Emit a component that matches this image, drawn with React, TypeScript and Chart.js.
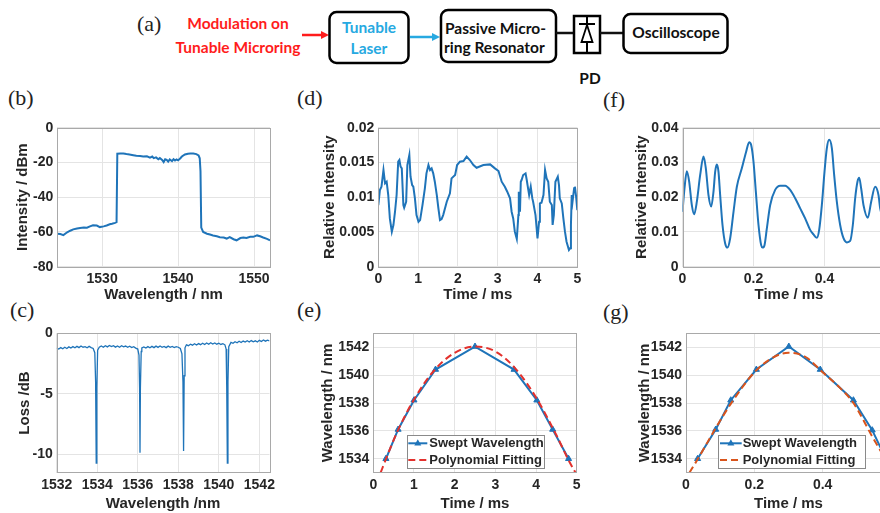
import React, { useEffect, useRef } from 'react';
import { Chart, registerables } from 'chart.js';

Chart.register(...registerables);

// ---------------- (b) laser spectrum ----------------
const bWavelength = [1524.1, 1524.5, 1524.9, 1525.4, 1525.8, 1526.2, 1526.7, 1527.1, 1527.6, 1528.0, 1528.4, 1528.8, 1529.3, 1529.7, 1530.2, 1530.6, 1531.0, 1531.3, 1531.7, 1531.9, 1532.0, 1532.4, 1532.8, 1533.2, 1533.6, 1534.1, 1534.5, 1535.0, 1535.4, 1535.9, 1536.3, 1536.6, 1536.8, 1537.1, 1537.4, 1537.6, 1537.9, 1538.1, 1538.3, 1538.5, 1538.7, 1538.9, 1539.2, 1539.4, 1539.6, 1539.8, 1540.0, 1540.3, 1540.5, 1540.9, 1541.3, 1541.6, 1542.0, 1542.4, 1542.7, 1542.85, 1542.95, 1543.05, 1543.3, 1543.8, 1544.2, 1544.6, 1545.1, 1545.5, 1546.0, 1546.4, 1546.8, 1547.3, 1547.7, 1548.2, 1548.6, 1549.0, 1549.5, 1549.9, 1550.4, 1550.8, 1551.2, 1551.7, 1552.1];
const bIntensity = [-61, -61.2, -61.8, -60.2, -59.3, -58.5, -58, -57.7, -57.5, -57.6, -56.8, -56.2, -56.3, -57.2, -56.8, -56.3, -55.6, -55.3, -54.8, -54.4, -15, -14.8, -14.9, -15.2, -15.4, -15.8, -16.2, -16.3, -16.6, -16.5, -17.2, -16.6, -17.5, -17.1, -18.2, -17.5, -18.6, -19.8, -18.2, -18.5, -19.5, -18.3, -19.2, -18.1, -18.9, -18.3, -18.8, -17.6, -16.6, -15.4, -15, -14.8, -14.9, -15.2, -16, -17.6, -25, -57.5, -60, -61, -61.5, -62, -62.5, -63, -63.2, -63.8, -63, -64.2, -64.8, -63.5, -63.2, -63.5, -62.8, -62.8, -62, -62.5, -63.2, -64, -64.8];
const bTicksX = [1530, 1540, 1550];
const bTicksY = [-80, -60, -40, -20, 0];

// ---------------- (c) micro-ring transmission ----------------
const cWavelength = [
  1532.0, 1532.1, 1532.2, 1532.3, 1532.4, 1532.5, 1532.6, 1532.7, 1532.8, 1532.9,
  1533.0, 1533.1, 1533.2, 1533.3, 1533.4, 1533.5, 1533.6, 1533.7, 1533.8,
  1533.88, 1533.92, 1533.95, 1533.98, 1534.02,
  1534.1, 1534.2, 1534.3, 1534.4, 1534.5, 1534.6, 1534.7, 1534.8, 1534.9, 1535.0,
  1535.1, 1535.2, 1535.3, 1535.4, 1535.5, 1535.6, 1535.7, 1535.8, 1535.9, 1536.0,
  1536.06, 1536.09, 1536.11, 1536.13, 1536.17,
  1536.2, 1536.3, 1536.4, 1536.5, 1536.6, 1536.7, 1536.8, 1536.9, 1537.0, 1537.1,
  1537.2, 1537.3, 1537.4, 1537.5, 1537.6, 1537.7, 1537.8, 1537.9, 1538.0, 1538.1,
  1538.18, 1538.23, 1538.26, 1538.29, 1538.33,
  1538.4, 1538.5, 1538.6, 1538.7, 1538.8, 1538.9, 1539.0, 1539.1, 1539.2, 1539.3,
  1539.4, 1539.5, 1539.6, 1539.7, 1539.8, 1539.9, 1540.0, 1540.1, 1540.2, 1540.3,
  1540.36, 1540.39, 1540.42, 1540.45, 1540.49,
  1540.6, 1540.7, 1540.8, 1540.9, 1541.0, 1541.1, 1541.2, 1541.3, 1541.4, 1541.5,
  1541.6, 1541.7, 1541.8, 1541.9, 1542.0, 1542.1, 1542.2, 1542.3, 1542.4, 1542.5,
];
const cLoss = [
  -1.22, -1.30, -1.18, -1.28, -1.15, -1.25, -1.12, -1.22, -1.10, -1.20,
  -1.08, -1.18, -1.05, -1.15, -1.10, -1.20, -1.08, -1.18, -1.25,
  -1.6, -4.0, -10.7, -4.5, -1.4,
  -1.15, -1.05, -1.15, -1.02, -1.12, -1.00, -1.10, -1.02, -1.14, -1.05,
  -1.15, -1.02, -1.12, -1.05, -1.15, -1.06, -1.18, -1.10, -1.22, -1.30,
  -1.8, -4.5, -9.85, -4.5, -1.5,
  -1.20, -1.12, -1.22, -1.10, -1.20, -1.08, -1.18, -1.06, -1.16, -1.05,
  -1.15, -1.08, -1.18, -1.06, -1.16, -1.08, -1.18, -1.10, -1.15, -1.25,
  -1.7, -4.0, -9.7, -3.5, -1.2,
  -0.95, -1.02, -0.90, -0.98, -0.86, -0.96, -0.85, -0.94, -0.82, -0.92,
  -0.80, -0.90, -0.78, -0.88, -0.80, -0.90, -0.82, -0.92, -0.85, -0.95,
  -1.3, -4.5, -10.7, -4.0, -1.1,
  -0.75, -0.82, -0.70, -0.78, -0.66, -0.76, -0.64, -0.72, -0.62, -0.72,
  -0.60, -0.70, -0.62, -0.72, -0.58, -0.68, -0.55, -0.65, -0.56, -0.62,
];
const cTicksX = [1532, 1534, 1536, 1538, 1540, 1542];
const cTicksY = [-10, -5, 0];

// ---------------- (d) relative intensity, 0-5 ms ----------------
const dTime = [0, 0.04, 0.08, 0.13, 0.17, 0.21, 0.25, 0.29, 0.34, 0.38, 0.42, 0.46, 0.5, 0.53, 0.56, 0.59, 0.63, 0.65, 0.7, 0.73, 0.78, 0.81, 0.85, 0.88, 0.92, 0.96, 1.01, 1.05, 1.11, 1.17, 1.21, 1.26, 1.3, 1.34, 1.38, 1.42, 1.47, 1.51, 1.55, 1.59, 1.63, 1.72, 1.8, 1.84, 1.93, 1.98, 2.05, 2.14, 2.22, 2.3, 2.39, 2.47, 2.64, 2.81, 2.93, 3.02, 3.1, 3.18, 3.24, 3.31, 3.35, 3.39, 3.43, 3.48, 3.52, 3.53, 3.56, 3.58, 3.6, 3.64, 3.7, 3.73, 3.75, 3.79, 3.83, 3.87, 3.89, 3.95, 4.0, 4.04, 4.06, 4.1, 4.15, 4.19, 4.23, 4.27, 4.31, 4.36, 4.38, 4.41, 4.45, 4.51, 4.54, 4.56, 4.61, 4.65, 4.69, 4.73, 4.79, 4.82, 4.84, 4.86, 4.88, 4.92, 4.94, 4.97, 5.0];
const dIntensity = [0.00887, 0.01103, 0.01151, 0.01391, 0.01199, 0.01223, 0.01031, 0.00695, 0.00504, 0.006, 0.00791, 0.01031, 0.01511, 0.01535, 0.01439, 0.01415, 0.00887, 0.00849, 0.00935, 0.01463, 0.01607, 0.01295, 0.01175, 0.01151, 0.00983, 0.00743, 0.00647, 0.00671, 0.00887, 0.01127, 0.01343, 0.01463, 0.01391, 0.01415, 0.01343, 0.01223, 0.01031, 0.00839, 0.00671, 0.00686, 0.00743, 0.00935, 0.01055, 0.01271, 0.01319, 0.01463, 0.01511, 0.0152, 0.01583, 0.01535, 0.01463, 0.01424, 0.01463, 0.01472, 0.01415, 0.01376, 0.01223, 0.01151, 0.01079, 0.00983, 0.00791, 0.00695, 0.00504, 0.00398, 0.00743, 0.01079, 0.00791, 0.01223, 0.01247, 0.01319, 0.01343, 0.01247, 0.01175, 0.01031, 0.01151, 0.00983, 0.00935, 0.00743, 0.00408, 0.00647, 0.00911, 0.00921, 0.01031, 0.01391, 0.01271, 0.01223, 0.00935, 0.00887, 0.006, 0.00743, 0.01223, 0.01295, 0.01175, 0.00983, 0.00911, 0.00695, 0.00504, 0.0036, 0.0024, 0.00264, 0.006, 0.01031, 0.00935, 0.01127, 0.01151, 0.01007, 0.00815];
const dTicksX = [0, 1, 2, 3, 4, 5];
const dTicksY = [0, 0.005, 0.01, 0.015, 0.02];

// ---------------- (e) swept wavelength, 0-5 ms ----------------
const eSweptTime = [0.31, 0.61, 1.0, 1.53, 2.5, 3.46, 4.02, 4.41, 4.8];
const eSweptWavelength = [1534, 1536.1, 1538.2, 1540.4, 1542.05, 1540.4, 1538.2, 1536.1, 1534];
const eFitTime = [0.18, 0.3, 0.6, 1.0, 1.5, 2.0, 2.5, 3.0, 3.5, 4.0, 4.5, 4.8, 4.97];
const eFitWavelength = [1533, 1533.9, 1536.0, 1538.25, 1540.35, 1541.6, 1542.05, 1541.7, 1540.45, 1538.4, 1535.7, 1533.9, 1533.0];
const eTicksX = [0, 1, 2, 3, 4, 5];
const eTicksY = [1534, 1536, 1538, 1540, 1542];

// ---------------- (f) relative intensity, 0-0.6 ms ----------------
const fTime = [0, 0.0056, 0.0122, 0.0188, 0.0263, 0.0329, 0.0404, 0.0498, 0.0592, 0.0657, 0.0732, 0.0808, 0.0873, 0.092, 0.0967, 0.1014, 0.1061, 0.1127, 0.1202, 0.1268, 0.1343, 0.1437, 0.1531, 0.1671, 0.1793, 0.1878, 0.1934, 0.2, 0.2066, 0.2141, 0.2216, 0.2254, 0.231, 0.2376, 0.2469, 0.261, 0.2751, 0.2892, 0.3033, 0.3174, 0.3315, 0.3455, 0.3596, 0.369, 0.3784, 0.385, 0.3925, 0.4, 0.4066, 0.4131, 0.4207, 0.4272, 0.4347, 0.4441, 0.4535, 0.4629, 0.4723, 0.4798, 0.4864, 0.493, 0.4977, 0.5033, 0.5099, 0.5221, 0.5315, 0.5427, 0.5521, 0.5568, 0.57, 0.585];
const fIntensity = [0.0158, 0.0225, 0.0275, 0.0245, 0.0177, 0.0151, 0.0187, 0.0264, 0.0317, 0.0283, 0.0206, 0.0173, 0.0216, 0.0273, 0.0294, 0.0273, 0.0206, 0.012, 0.0067, 0.0055, 0.0082, 0.0158, 0.023, 0.0283, 0.0331, 0.0358, 0.035, 0.0302, 0.0216, 0.012, 0.0062, 0.0055, 0.0062, 0.011, 0.0177, 0.0221, 0.0233, 0.0233, 0.0221, 0.0197, 0.0168, 0.0139, 0.0106, 0.0093, 0.0083, 0.0106, 0.0177, 0.0273, 0.0341, 0.0365, 0.0341, 0.0264, 0.0187, 0.012, 0.0082, 0.007, 0.0074, 0.012, 0.0197, 0.0245, 0.0256, 0.0225, 0.0177, 0.0141, 0.0187, 0.023, 0.0206, 0.0168, 0.012, 0.0095];
const fTicksX = [0, 0.2, 0.4, 0.6];
const fTicksY = [0, 0.01, 0.02, 0.03, 0.04];

// ---------------- (g) swept wavelength, 0-0.6 ms ----------------
const gSweptTime = [0.034, 0.087, 0.131, 0.206, 0.301, 0.393, 0.49, 0.545, 0.585];
const gSweptWavelength = [1534, 1536.1, 1538.2, 1540.4, 1542.05, 1540.4, 1538.2, 1536.05, 1534];
const gFitTime = [0.01, 0.035, 0.087, 0.13, 0.2, 0.25, 0.3, 0.35, 0.4, 0.45, 0.49, 0.545, 0.6];
const gFitWavelength = [1533, 1534.0, 1536.2, 1537.9, 1540.2, 1541.2, 1541.6, 1541.3, 1540.2, 1539.1, 1538.0, 1535.6, 1533.3];
const gTicksX = [0, 0.2, 0.4, 0.6];
const gTicksY = [1534, 1536, 1538, 1540, 1542];

// ---------------- styling ----------------
const SANS = '"Liberation Sans", Arial, Helvetica, sans-serif';
const SERIF = '"Liberation Serif", "Times New Roman", serif';
const TEXT = '#262626';
const BLUE = '#1f74b9';
const RED = '#e3312d';
const ORANGE = '#d9541c';
const GRID = '#e4e4e4';
const FRAME = '#a9a9a9';
const TICK_SIZE = 14;
const TITLE_SIZE = 15;

Chart.defaults.font.family = SANS;

const toXY = (xs: number[], ys: number[]) => xs.map((x, i) => ({ x, y: ys[i] }));

const framePlugin = {
  id: 'frame',
  afterDatasetsDraw(chart: any) {
    const { ctx, chartArea: a } = chart;
    ctx.save();
    ctx.strokeStyle = FRAME;
    ctx.lineWidth = 1;
    ctx.strokeRect(Math.round(a.left) + 0.5, Math.round(a.top) + 0.5, Math.round(a.right - a.left), Math.round(a.bottom - a.top));
    ctx.restore();
  },
};

const boxLegendPlugin = {
  id: 'boxLegend',
  afterDraw(chart: any, _args: any, opts: any) {
    if (!opts || !opts.enabled) return;
    const { ctx, chartArea: a } = chart;
    const x0 = a.left + opts.left;
    const x1 = a.left + opts.right;
    const y0 = a.bottom - opts.top;
    const y1 = a.bottom - opts.bottom;
    ctx.save();
    ctx.fillStyle = '#ffffff';
    ctx.fillRect(x0, y0, x1 - x0, y1 - y0);
    ctx.strokeStyle = '#8a8a8a';
    ctx.lineWidth = 1;
    ctx.strokeRect(Math.round(x0) + 0.5, Math.round(y0) + 0.5, Math.round(x1 - x0), Math.round(y1 - y0));
    chart.data.datasets.forEach((ds: any, i: number) => {
      const cy = y0 + opts.rows[i];
      ctx.strokeStyle = ds.borderColor;
      ctx.lineWidth = ds.borderWidth;
      ctx.setLineDash(ds.borderDash || []);
      ctx.beginPath();
      ctx.moveTo(x0 + opts.sampleStart, cy);
      ctx.lineTo(x0 + opts.sampleEnd, cy);
      ctx.stroke();
      ctx.setLineDash([]);
      if (ds.pointRadius > 0) {
        const mx = x0 + (opts.sampleStart + opts.sampleEnd) / 2;
        const r = ds.pointRadius;
        ctx.fillStyle = ds.pointBackgroundColor;
        ctx.beginPath();
        ctx.moveTo(mx, cy - r * 1.15);
        ctx.lineTo(mx + r, cy + r * 0.65);
        ctx.lineTo(mx - r, cy + r * 0.65);
        ctx.closePath();
        ctx.fill();
      }
      ctx.fillStyle = TEXT;
      ctx.font = `bold 13px ${SANS}`;
      ctx.textBaseline = 'middle';
      ctx.textAlign = 'left';
      ctx.fillText(ds.label, x0 + opts.textX, cy + 0.5);
    });
    ctx.restore();
  },
};

type Area = { l: number; t: number; r: number; b: number };
type Box = { x: number; y: number; w: number; h: number };

interface PanelDef {
  area: Area;
  box: Box;
  xMin: number; xMax: number; yMin: number; yMax: number;
  xTicks: number[]; yTicks: number[];
  xTitle: string; yTitle: string;
  yTitleCenterX: number; xTitleCenterY: number;
  datasets: () => any[];
  legend?: any;
}

function buildConfig(p: PanelDef): any {
  const yAxisWidth = p.area.l - p.box.x;
  const xAxisHeight = p.box.y + p.box.h - p.area.b;
  const padTop = p.area.t - p.box.y;
  const padRight = p.box.x + p.box.w - p.area.r;
  const lh = TITLE_SIZE * 1.2;
  const yTitlePad = Math.max(0, p.yTitleCenterX - p.box.x - lh / 2);
  const xTitlePad = Math.max(0, p.box.y + p.box.h - p.xTitleCenterY - lh / 2);
  const tickFont = { family: SANS, size: TICK_SIZE, weight: 'bold' as const };
  const titleFont = { family: SANS, size: TITLE_SIZE, weight: 'bold' as const };
  return {
    type: 'line',
    data: { datasets: p.datasets() },
    options: {
      animation: false,
      responsive: false,
      devicePixelRatio: 1,
      layout: { padding: { top: padTop, right: padRight, left: 0, bottom: 0 } },
      plugins: {
        legend: { display: false },
        tooltip: { enabled: false },
        boxLegend: p.legend || { enabled: false },
      },
      scales: {
        x: {
          type: 'linear',
          min: p.xMin,
          max: p.xMax,
          afterBuildTicks: (s: any) => { s.ticks = p.xTicks.map((v) => ({ value: v })); },
          afterFit: (s: any) => { s.height = xAxisHeight; },
          ticks: { autoSkip: false, maxRotation: 0, minRotation: 0, padding: 4, font: tickFont, color: TEXT, callback: (v: any) => String(v) },
          grid: { color: GRID, drawTicks: false, lineWidth: 1 },
          border: { display: false },
          title: { display: true, text: p.xTitle, font: titleFont, color: TEXT, padding: { top: 0, bottom: xTitlePad } },
        },
        y: {
          type: 'linear',
          min: p.yMin,
          max: p.yMax,
          afterBuildTicks: (s: any) => { s.ticks = p.yTicks.map((v) => ({ value: v })); },
          afterFit: (s: any) => { s.width = yAxisWidth; },
          ticks: { autoSkip: false, padding: 4, font: tickFont, color: TEXT, callback: (v: any) => String(v) },
          grid: { color: GRID, drawTicks: false, lineWidth: 1 },
          border: { display: false },
          title: { display: true, text: p.yTitle, font: titleFont, color: TEXT, padding: { top: yTitlePad, bottom: 0 } },
        },
      },
    },
    plugins: [framePlugin, boxLegendPlugin],
  };
}

const lineDs = (data: any[], extra: any = {}) => ({
  data,
  borderColor: BLUE,
  backgroundColor: BLUE,
  borderWidth: 2,
  pointRadius: 0,
  tension: 0,
  clip: 0,
  ...extra,
});

const panels: PanelDef[] = [
  {
    // (b)
    area: { l: 57.3, t: 127.7, r: 270, b: 266.7 },
    box: { x: 0, y: 108, w: 290, h: 200 },
    xMin: 1524.1, xMax: 1552.1, yMin: -80, yMax: 0,
    xTicks: bTicksX, yTicks: bTicksY,
    xTitle: 'Wavelength / nm', yTitle: 'Intensity / dBm',
    yTitleCenterX: 23, xTitleCenterY: 295,
    datasets: () => [lineDs(toXY(bWavelength, bIntensity))],
  },
  {
    // (d)
    area: { l: 378.3, t: 127.7, r: 577.3, b: 266.7 },
    box: { x: 298, y: 108, w: 300, h: 200 },
    xMin: 0, xMax: 5, yMin: 0, yMax: 0.02,
    xTicks: dTicksX, yTicks: dTicksY,
    xTitle: 'Time / ms', yTitle: 'Relative Intensity',
    yTitleCenterX: 330, xTitleCenterY: 295,
    datasets: () => [lineDs(toXY(dTime, dIntensity))],
  },
  {
    // (f)
    area: { l: 682.5, t: 127.7, r: 895.5, b: 266.7 },
    box: { x: 600, y: 108, w: 325, h: 200 },
    xMin: 0, xMax: 0.6, yMin: 0, yMax: 0.04,
    xTicks: fTicksX, yTicks: fTicksY,
    xTitle: 'Time / ms', yTitle: 'Relative Intensity',
    yTitleCenterX: 641.7, xTitleCenterY: 295,
    datasets: () => [lineDs(toXY(fTime, fIntensity), { cubicInterpolationMode: 'monotone' })],
  },
  {
    // (c)
    area: { l: 56.7, t: 333.3, r: 269.5, b: 472.7 },
    box: { x: 0, y: 313, w: 290, h: 200 },
    xMin: 1532, xMax: 1542.5, yMin: -11.5, yMax: 0,
    xTicks: cTicksX, yTicks: cTicksY,
    xTitle: 'Wavelength /nm', yTitle: 'Loss /dB',
    yTitleCenterX: 25, xTitleCenterY: 504,
    datasets: () => [lineDs(toXY(cWavelength, cLoss), { borderWidth: 1.3 })],
  },
  {
    // (e)
    area: { l: 373.3, t: 333.3, r: 576.7, b: 472.7 },
    box: { x: 298, y: 313, w: 300, h: 200 },
    xMin: 0, xMax: 5, yMin: 1533, yMax: 1543,
    xTicks: eTicksX, yTicks: eTicksY,
    xTitle: 'Time / ms', yTitle: 'Wavelength / nm',
    yTitleCenterX: 328, xTitleCenterY: 505,
    datasets: () => [
      lineDs(toXY(eSweptTime, eSweptWavelength), { label: 'Swept Wavelength', pointRadius: 3.5, pointStyle: 'triangle', pointBackgroundColor: BLUE, pointBorderColor: BLUE, pointBorderWidth: 1, order: 1 }),
      lineDs(toXY(eFitTime, eFitWavelength), { label: 'Polynomial Fitting', borderColor: RED, backgroundColor: RED, borderDash: [7, 4], cubicInterpolationMode: 'monotone', order: 0 }),
    ],
    legend: { enabled: true, left: 33.4, right: 170, top: 37.7, bottom: 4.4, rows: [8.3, 25], sampleStart: 1.6, sampleEnd: 20.6, textX: 22.6 },
  },
  {
    // (g)
    area: { l: 686, t: 333.3, r: 891, b: 472.7 },
    box: { x: 600, y: 313, w: 325, h: 200 },
    xMin: 0, xMax: 0.6, yMin: 1533, yMax: 1543,
    xTicks: gTicksX, yTicks: gTicksY,
    xTitle: 'Time / ms', yTitle: 'Wavelength / nm',
    yTitleCenterX: 645, xTitleCenterY: 505,
    datasets: () => [
      lineDs(toXY(gSweptTime, gSweptWavelength), { label: 'Swept Wavelength', pointRadius: 3.5, pointStyle: 'triangle', pointBackgroundColor: BLUE, pointBorderColor: BLUE, pointBorderWidth: 1, order: 1 }),
      lineDs(toXY(gFitTime, gFitWavelength), { label: 'Polynomial Fitting', borderColor: ORANGE, backgroundColor: ORANGE, borderDash: [7, 4], cubicInterpolationMode: 'monotone', order: 0 }),
    ],
    legend: { enabled: true, left: 32.3, right: 179, top: 37.7, bottom: 4.4, rows: [8.3, 25], sampleStart: 1.7, sampleEnd: 23.4, textX: 24.4 },
  },
];

function ChartPanel({ def }: { def: PanelDef }) {
  const ref = useRef<HTMLCanvasElement>(null);
  useEffect(() => {
    if (!ref.current) return;
    const chart = new Chart(ref.current, buildConfig(def));
    return () => chart.destroy();
  }, [def]);
  const { x, y, w, h } = def.box;
  return (
    <canvas
      ref={ref}
      width={w}
      height={h}
      style={{ position: 'absolute', left: x, top: y, width: w, height: h }}
    />
  );
}

const panelLabels = [
  { text: '(b)', x: 8, y: 98 },
  { text: '(d)', x: 297, y: 98 },
  { text: '(f)', x: 603, y: 100 },
  { text: '(c)', x: 10, y: 310 },
  { text: '(e)', x: 297, y: 310 },
  { text: '(g)', x: 603, y: 312 },
];

function Diagram() {
  const boxFont = { fontFamily: 'Lato, "Open Sans", sans-serif', fontWeight: 700, fontSize: 15.5 } as const;
  return (
    <svg width={880} height={95} style={{ position: 'absolute', left: 0, top: 0 }}>
      <text x={137} y={23} dominantBaseline="central" style={{ fontFamily: SERIF, fontSize: 22 }} fill="#222">(a)</text>
      <text x={238} y={23} textAnchor="middle" dominantBaseline="central" style={boxFont} fill="#ff1c1c">Modulation on</text>
      <text x={238} y={47} textAnchor="middle" dominantBaseline="central" style={boxFont} fill="#ff1c1c">Tunable Microring</text>
      <line x1={302} y1={35} x2={322} y2={35} stroke="#ff1c1c" strokeWidth={2.5} />
      <polygon points="321,31 329,35 321,39" fill="#ff1c1c" />

      <rect x={329.5} y={12} width={79} height={51} rx={7} fill="#fff" stroke="#000" strokeWidth={2.5} />
      <text x={369} y={27} textAnchor="middle" dominantBaseline="central" style={boxFont} fill="#27a9e1">Tunable</text>
      <text x={369} y={48} textAnchor="middle" dominantBaseline="central" style={boxFont} fill="#27a9e1">Laser</text>

      <line x1={410} y1={37} x2={433} y2={37} stroke="#27a9e1" strokeWidth={2.5} />
      <polygon points="432,33 440,37 432,41" fill="#27a9e1" />

      <rect x={441} y={10} width={115} height={52} rx={7} fill="#fff" stroke="#000" strokeWidth={2.5} />
      <text x={445} y={28} dominantBaseline="central" style={boxFont} fill="#111">Passive Micro-</text>
      <text x={444} y={47} dominantBaseline="central" style={boxFont} fill="#111">ring Resonator</text>

      <line x1={556} y1={33} x2={574} y2={33} stroke="#111" strokeWidth={2.5} />
      <rect x={574} y={16} width={26} height={37} fill="#fff" stroke="#000" strokeWidth={2.5} />
      <line x1={587} y1={16} x2={587} y2={24} stroke="#000" strokeWidth={2} />
      <line x1={579} y1={24} x2={595} y2={24} stroke="#000" strokeWidth={2} />
      <polygon points="587,25 581.5,42 592.5,42" fill="#fff" stroke="#000" strokeWidth={1.8} />
      <line x1={587} y1={42} x2={587} y2={53} stroke="#000" strokeWidth={2} />
      <line x1={600} y1={33} x2={623} y2={33} stroke="#111" strokeWidth={2.5} />

      <rect x={623.5} y={14} width={104} height={39} rx={7} fill="#fff" stroke="#000" strokeWidth={2.5} />
      <text x={676} y={32} textAnchor="middle" dominantBaseline="central" style={boxFont} fill="#111">Oscilloscope</text>

      <text x={590} y={78} textAnchor="middle" dominantBaseline="central" style={boxFont} fill="#111">PD</text>
    </svg>
  );
}

export default function App() {
  return (
    <div
      style={{
        position: 'absolute',
        left: 0,
        top: 0,
        width: 880,
        height: 513,
        overflow: 'hidden',
        background: '#fff',
      }}
    >
      <Diagram />
      {panelLabels.map((l) => (
        <div
          key={l.text}
          style={{
            position: 'absolute',
            left: l.x,
            top: l.y - 11,
            fontFamily: SERIF,
            fontSize: 22,
            lineHeight: '22px',
            color: '#222',
            whiteSpace: 'nowrap',
          }}
        >
          {l.text}
        </div>
      ))}
      {panels.map((p, i) => (
        <ChartPanel key={i} def={p} />
      ))}
    </div>
  );
}
